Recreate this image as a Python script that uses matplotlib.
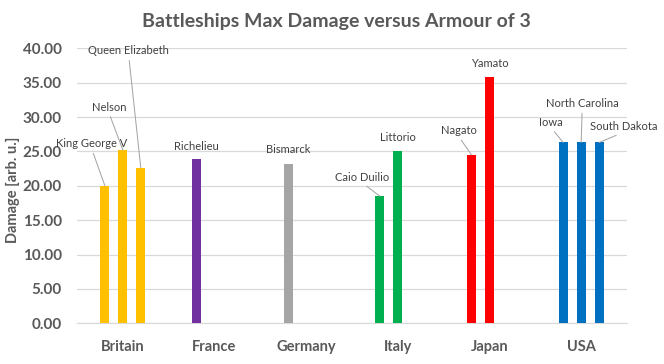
import numpy as np
import matplotlib
matplotlib.use("Agg")
import matplotlib.pyplot as plt

plt.rcParams['font.family'] = ['Lato', 'DejaVu Sans']

# data
countries = ["Britain", "France", "Germany", "Italy", "Japan", "USA"]
colours = ["#FFC000", "#7030A0", "#A5A5A5", "#00B050", "#FF0000", "#0070C0"]

ship1 = ["King George V", "Richelieu", "Bismarck", "Caio Duilio", "Nagato", "Iowa"]
dmg1 = [20.0, 23.9, 23.2, 18.5, 24.5, 26.3]
ship2 = ["Nelson", None, None, "Littorio", "Yamato", "North Carolina"]
dmg2 = [25.2, np.nan, np.nan, 25.1, 35.8, 26.3]
ship3 = ["Queen Elizabeth", None, None, None, None, "South Dakota"]
dmg3 = [22.6, np.nan, np.nan, np.nan, np.nan, 26.3]

# label offsets (pixels) from bar top, and whether a leader line is drawn
lab_off = {
    "King George V": (-13, 42, True),
    "Nelson": (-14, 43, True),
    "Queen Elizabeth": (-12, 117, True),
    "Richelieu": (0, 12, False),
    "Bismarck": (0, 14, False),
    "Caio Duilio": (-18, 19, True),
    "Littorio": (0, 13, False),
    "Nagato": (-13, 24, True),
    "Yamato": (0, 14, False),
    "Iowa": (-12, 20, True),
    "North Carolina": (1, 39, True),
    "South Dakota": (25, 16, True),
}

fig = plt.figure(figsize=(6.64, 3.64), dpi=100)
ax = fig.add_axes([77/664, (364-323.3)/364, 550/664, 275/364])

x = np.arange(len(countries))
w = 0.1
off = 0.196
series = [(ship1, dmg1, -off), (ship2, dmg2, 0), (ship3, dmg3, off)]
for names, vals, dx in series:
    ax.bar(x + dx, vals, width=w, color=colours, zorder=3)
    for i, (n, v) in enumerate(zip(names, vals)):
        if n is None:
            continue
        ox, oy, lead = lab_off[n]
        ap = None
        if lead:
            ap = dict(arrowstyle='-', color='#A6A6A6', lw=0.75,
                      shrinkA=1, shrinkB=0, relpos=(0.5, 0))
        ax.annotate(n, xy=(i + dx, v), xytext=(ox, oy), textcoords='offset pixels',
                    ha='center', va='center', fontsize=8, color='#404040',
                    arrowprops=ap, zorder=4)

ax.set_xlim(-0.5, len(countries) - 0.5)
ax.set_ylim(0, 40)
ax.set_yticks(np.arange(0, 41, 5))
ax.set_yticklabels([f"{t:.2f}" for t in np.arange(0, 41, 5)])
ax.set_xticks(x)
ax.set_xticklabels(countries)
ax.grid(axis='y', color='#D9D9D9', lw=0.9, zorder=0)
for s in ['top', 'right', 'left']:
    ax.spines[s].set_visible(False)
ax.spines['bottom'].set_color('#D9D9D9')
ax.tick_params(length=0)
ax.tick_params(axis='y', pad=11, labelsize=11, labelcolor='#595959')
ax.tick_params(axis='x', pad=12, labelsize=10.5, labelcolor='#595959')
for lab in ax.get_xticklabels() + ax.get_yticklabels():
    lab.set_fontweight('bold')

ax.set_ylabel("Damage [arb. u.]", fontsize=10.5, fontweight='bold', color='#595959')
ax.yaxis.set_label_coords(-57/550, 0.484)
fig.text(336/664, 1 - 21.7/364, "Battleships Max Damage versus Armour of 3",
         ha='center', va='center', fontsize=14, fontweight='bold', color='#595959')

fig.savefig("out.png", dpi=100)
